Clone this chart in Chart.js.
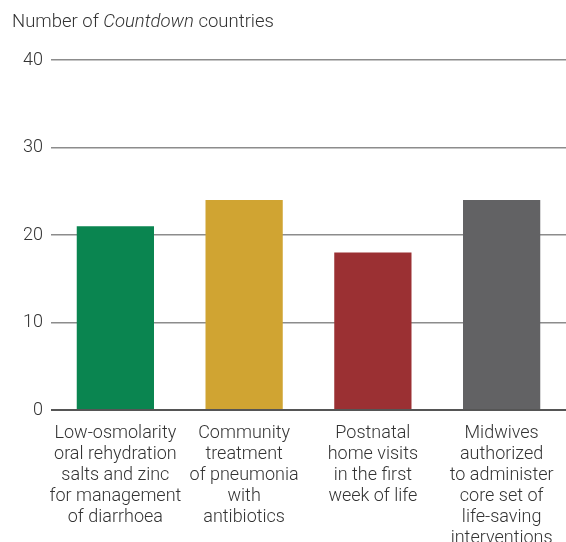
<!DOCTYPE html>
<html>
<head>
  <title>Countdown countries</title>
  <script src="https://cdn.jsdelivr.net/npm/chart.js"></script>
  <style>
    body {
      margin: 0;
      background-color: #ffffff;
      font-family: 'Roboto', 'Liberation Sans', sans-serif;
    }
    .wrap {
      position: relative;
      width: 566px;
      height: 542px;
    }
    .title {
      position: absolute;
      left: 12px;
      top: 10px;
      font-size: 18.5px;
      font-weight: 300;
      color: #333333;
    }
    #barChart {
      position: absolute;
      left: 0;
      top: 0;
    }
  </style>
</head>
<body>
  <div class="wrap">
    <canvas id="barChart" width="566" height="542"></canvas>
    <div class="title">Number of <em>Countdown</em> countries</div>
  </div>

  <script>
    // categories (multi-line labels) and values
    const categories = [
      ['Low-osmolarity', 'oral rehydration', 'salts and zinc', 'for management', 'of diarrhoea'],
      ['Community', 'treatment', 'of pneumonia', 'with', 'antibiotics'],
      ['Postnatal', 'home visits', 'in the first', 'week of life'],
      ['Midwives', 'authorized', 'to administer', 'core set of', 'life-saving', 'interventions']
    ];
    const countries = [21, 24, 18, 24];
    const barColors = ['#0a8550', '#d0a432', '#9b3033', '#626264'];
    const yTicks = [0, 10, 20, 30, 40];

    const ctx = document.getElementById('barChart').getContext('2d');
    new Chart(ctx, {
      type: 'bar',
      data: {
        labels: categories,
        datasets: [{
          data: countries,
          backgroundColor: barColors,
          borderWidth: 0,
          categoryPercentage: 1,
          barPercentage: 0.6
        }]
      },
      options: {
        responsive: false,
        animation: false,
        layout: { padding: { top: 60, right: 0, left: 0, bottom: 0 } },
        plugins: {
          legend: { display: false },
          tooltip: { enabled: false }
        },
        scales: {
          x: {
            grid: { display: false },
            border: { display: false },
            ticks: {
              color: '#333333',
              font: { family: 'Roboto', size: 18, weight: 300, lineHeight: '21px' },
              padding: 5,
              maxRotation: 0,
              autoSkip: false
            },
            afterFit: (scale) => { scale.height = 132; }
          },
          y: {
            min: 0,
            max: 40,
            afterBuildTicks: (scale) => { scale.ticks = yTicks.map(v => ({ value: v })); },
            grid: {
              drawTicks: false,
              color: (c) => c.tick && c.tick.value === 0 ? '#555555' : '#8c8c8c',
              lineWidth: (c) => c.tick && c.tick.value === 0 ? 2 : 1.5
            },
            border: { display: false },
            ticks: {
              color: '#333333',
              font: { family: 'Roboto', size: 18, weight: 300 },
              padding: 8
            },
            afterFit: (scale) => { scale.width = 51; }
          }
        }
      }
    });
  </script>
</body>
</html>
